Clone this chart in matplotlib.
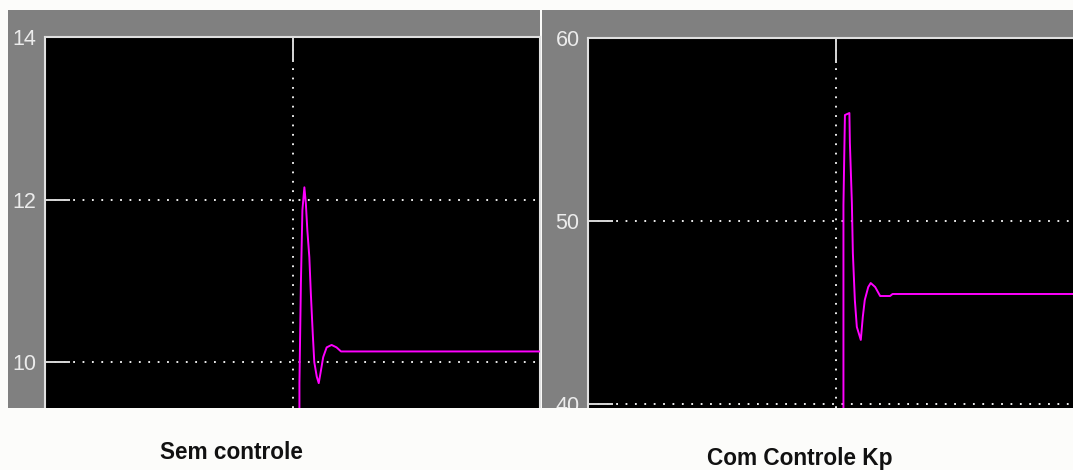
import numpy as np
import matplotlib
matplotlib.use('Agg')
import matplotlib.pyplot as plt
from matplotlib.patches import Rectangle

t_sem = [0, 5.14, 5.14, 5.17, 5.20, 5.24, 5.27, 5.30, 5.34, 5.37, 5.41, 5.44,
         5.49, 5.53, 5.57, 5.62, 5.69, 5.79, 5.89, 5.98, 10]
y_sem = [0, 0, 9.74, 10.98, 11.87, 12.15, 11.95, 11.62, 11.29, 10.85, 10.34, 10.00,
         9.82, 9.74, 9.88, 10.06, 10.18, 10.21, 10.18, 10.13, 10.13]

# sinal com controle Kp (scope da direita)
t_kp = [0, 5.15, 5.15, 5.18, 5.27, 5.28, 5.32, 5.34, 5.38, 5.42, 5.50, 5.54,
        5.58, 5.65, 5.70, 5.79, 5.89, 6.09, 6.14, 10]
y_kp = [0, 0, 50.87, 55.79, 55.90, 54.26, 50.98, 48.25, 45.68, 44.21, 43.50, 44.75,
        45.68, 46.39, 46.61, 46.39, 45.90, 45.90, 46.01, 46.01]

yticks_sem = [10, 12, 14]
yticks_kp = [40, 50, 60]
titulos = ['Sem controle', 'Com Controle Kp']

W, H = 1073, 470
BG = '#fcfcfa'
fig = plt.figure(figsize=(W / 100, H / 100), dpi=100)
fig.patch.set_facecolor(BG)


def px(x0, y0, x1, y1):
    # caixa em pixels (origem no topo) -> fracoes da figura
    return [x0 / W, (H - y1) / H, (x1 - x0) / W, (y1 - y0) / H]


def retangulo(box, cor, z):
    b = px(*box)
    fig.add_artist(Rectangle((b[0], b[1]), b[2], b[3], transform=fig.transFigure,
                             facecolor=cor, edgecolor='none', zorder=z))


# fundos cinza das janelas do scope
retangulo((8, 10, 540, 408), '#808080', -5)
retangulo((542, 10, 1080, 408), '#808080', -5)

tick_family = ['Liberation Sans Narrow', 'Liberation Sans', 'DejaVu Sans']


def scope(box, t, y, ylim, yticks):
    ax = fig.add_axes(px(*box), zorder=2)
    ax.set_facecolor('black')
    ax.plot(t, y, color='#ff00ff', lw=1.4, zorder=3)
    ax.set_xlim(0, 10)
    ax.set_ylim(*ylim)
    ax.set_xticks([5])
    ax.set_yticks(yticks)
    ax.grid(True, color='white', lw=1.3, linestyle=(0, (1, 4.2)))
    ax.tick_params(axis='x', bottom=False, top=True, labelbottom=False, direction='in',
                   length=18, width=1.4, color='#d8d8d8')
    ax.tick_params(axis='y', direction='in', length=18, width=1.4, color='#d8d8d8',
                   labelcolor='#ececec', pad=6)
    for lab in ax.get_yticklabels():
        lab.set_fontfamily(tick_family)
        lab.set_fontsize(15.5)
    for s in ['top', 'left', 'right']:
        ax.spines[s].set_color('#e0e0e0')
        ax.spines[s].set_linewidth(1.5)
    ax.spines['bottom'].set_visible(False)
    return ax


scope((45, 37, 540, 408), t_sem, y_sem, (9.434, 14), yticks_sem)
scope((588, 38, 1084, 408), t_kp, y_kp, (39.78, 60), yticks_kp)

# a captura corta a janela do scope logo abaixo (o "40" fica cortado)
retangulo((0, 408, W, 432), BG, 10)

fig.text(231 / W, (H - 459) / H, titulos[0], ha='center', va='baseline',
         fontsize=16.3, fontweight='bold', family=['Liberation Sans', 'DejaVu Sans'],
         color='#111111', zorder=11)
fig.text(800 / W, (H - 465) / H, titulos[1], ha='center', va='baseline',
         fontsize=16.3, fontweight='bold', family=['Liberation Sans', 'DejaVu Sans'],
         color='#111111', zorder=11)

fig.savefig('out.png', dpi=100, facecolor=fig.get_facecolor())
